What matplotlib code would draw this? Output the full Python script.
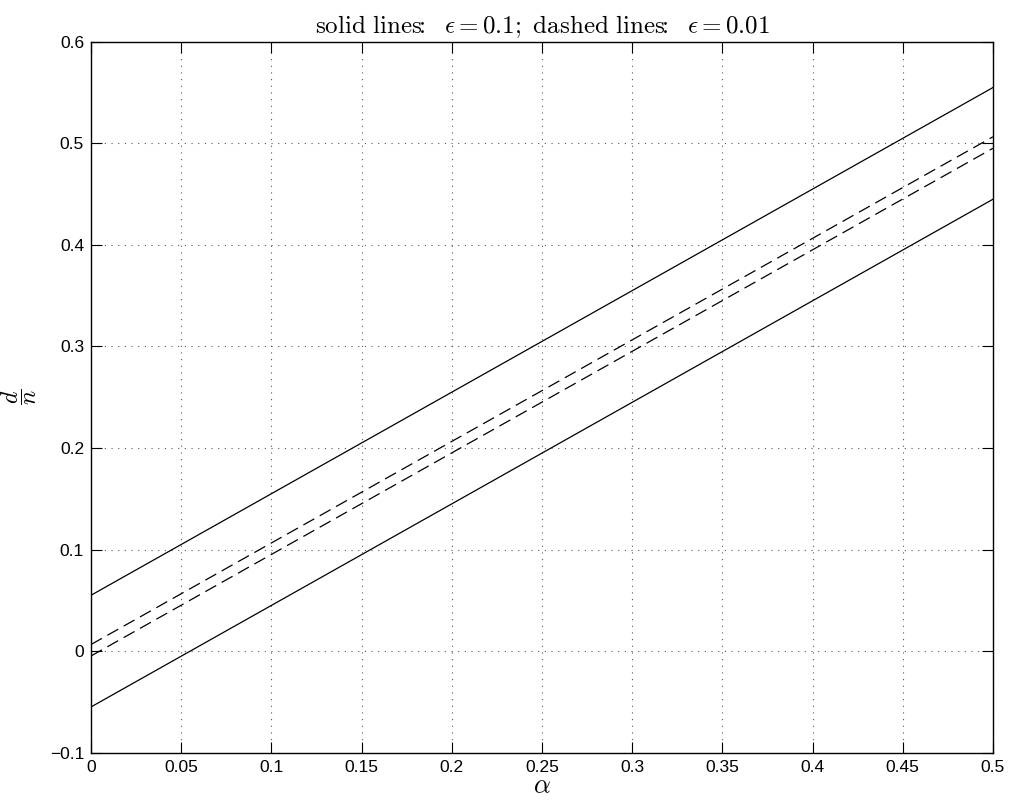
import numpy as np
import matplotlib
matplotlib.use("Agg")
import matplotlib.pyplot as plt

# values
alpha = [0.0, 0.5]
solid_upper = [0.055, 0.555]
solid_lower = [-0.055, 0.445]
dashed_upper = [0.0065, 0.5065]
dashed_lower = [-0.0048, 0.4952]

xticks = [0, 0.05, 0.1, 0.15, 0.2, 0.25, 0.3, 0.35, 0.4, 0.45, 0.5]
xticklabels = ["0", "0.05", "0.1", "0.15", "0.2", "0.25", "0.3", "0.35", "0.4", "0.45", "0.5"]
yticks = [-0.1, 0, 0.1, 0.2, 0.3, 0.4, 0.5, 0.6]
yticklabels = ["\u22120.1", "0", "0.1", "0.2", "0.3", "0.4", "0.5", "0.6"]

plt.rcParams["font.family"] = ["Liberation Sans", "DejaVu Sans"]
plt.rcParams["mathtext.fontset"] = "cm"

fig = plt.figure(figsize=(10.13, 8.05), dpi=100)
ax = fig.add_axes([0.0898, 0.065, 0.8904, 0.883])

ax.plot(alpha, solid_upper, color="black", lw=0.9)
ax.plot(alpha, solid_lower, color="black", lw=0.9)
ax.plot(alpha, dashed_upper, color="black", lw=0.9, linestyle=(0, (10, 5)))
ax.plot(alpha, dashed_lower, color="black", lw=0.9, linestyle=(0, (10, 5)))

ax.set_xlim(0, 0.5)
ax.set_ylim(-0.1, 0.6)
ax.set_xticks(xticks)
ax.set_xticklabels(xticklabels)
ax.set_yticks(yticks)
ax.set_yticklabels(yticklabels)
ax.tick_params(direction="in", length=8, width=0.8, top=True, right=True,
               labelsize=12.5, colors="black", pad=5)
ax.grid(True, linestyle=(0, (1, 5)), color="#555555", linewidth=0.8)
for s in ax.spines.values():
    s.set_linewidth(1.0)

ax.set_title(r"$\mathrm{solid\ lines}\!\!:\ \ \epsilon = 0.1;\ \mathrm{dashed\ lines}\!\!:\ \ \epsilon = 0.01$",
             fontsize=18, pad=6)
ax.set_xlabel(r"$\alpha$", fontsize=19, labelpad=0)
ax.set_ylabel(r"$\dfrac{d}{n}$", fontsize=17, rotation=90)
ax.yaxis.set_label_coords(-0.058, 0.5)

fig.savefig("out.png", dpi=100)
